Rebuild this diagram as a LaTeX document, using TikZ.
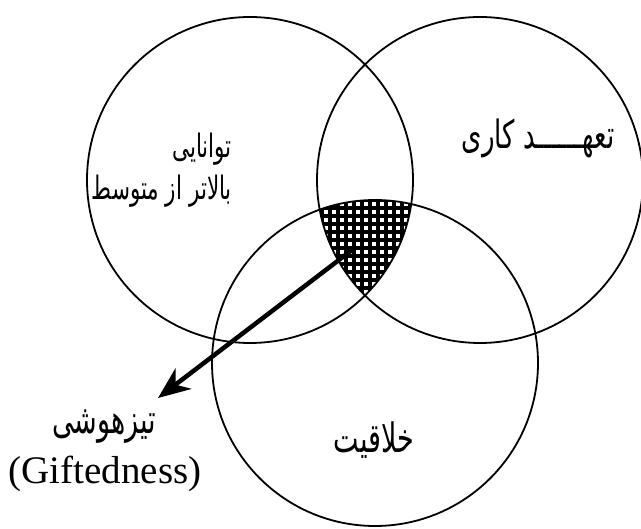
\documentclass[tikz,border=0pt]{standalone}
\usepackage{fontspec}
\usepackage{graphicx}
\setmainfont{Liberation Serif}
\newfontfamily\fafont[Script=Arabic]{DejaVu Sans}
\TeXXeTstate=1
\usetikzlibrary{arrows.meta}
\newcommand{\faline}[1]{\scalebox{1}[1.5]{\beginR #1\endR}}
\tikzset{
  ring/.style={draw, line width=1.8pt},
  fatext/.style={font=\fafont\fontsize{27}{44}\selectfont, inner sep=1pt},
  entext/.style={font=\fontsize{39}{42}\selectfont, inner sep=1pt},
}

\begin{document}
\begin{tikzpicture}[x=1pt,y=-1pt]
    \useasboundingbox (0,0) rectangle (641,529);

    % 圆心
    \coordinate (cl) at (250,180);
    \coordinate (cr) at (480,180);
    \coordinate (cb) at (375,363);

    % 三圆交集（网格）
    \begin{scope}
        \clip (cl) circle[radius=163pt];
        \clip (cr) circle[radius=163pt];
        \clip (cb) circle[radius=163pt];
        \foreach \i in {282,290,...,450}
            \draw[line width=3.8pt] (\i,180) -- (\i,330);
        \foreach \j in {192,200,...,330}
            \draw[line width=3.8pt] (280,\j) -- (450,\j);
    \end{scope}

    % 三个圆
    \draw[ring] (cl) circle[radius=163pt];
    \draw[ring] (cr) circle[radius=163pt];
    \draw[ring] (cb) circle[radius=163pt];

    % 标注
    \node[fatext, font=\fafont\fontsize{21.5}{42}\selectfont, anchor=east, align=right] (ability) at (233,170)
        {\faline{توانایی}\\\faline{بالاتر از متوسط}};
    \node[fatext, font=\fafont\fontsize{26}{44}\selectfont] (commit) at (538,138) {\faline{تعهــــــد کاری}};
    \node[fatext] (creative) at (374,440) {\faline{خلاقیت}};
    \node[fatext] (gifted) at (104,427) {\faline{تیزهوشی}};
    \node[entext] (giften) at (105,474) {(Giftedness)};

    % 箭头
    \coordinate (core) at (352,250);
    \coordinate (tip) at (158,398);
    \draw[line width=4.5pt, -{Stealth[length=32pt,width=26pt,inset=10pt]}] (core) -- (tip);
\end{tikzpicture}
\end{document}
